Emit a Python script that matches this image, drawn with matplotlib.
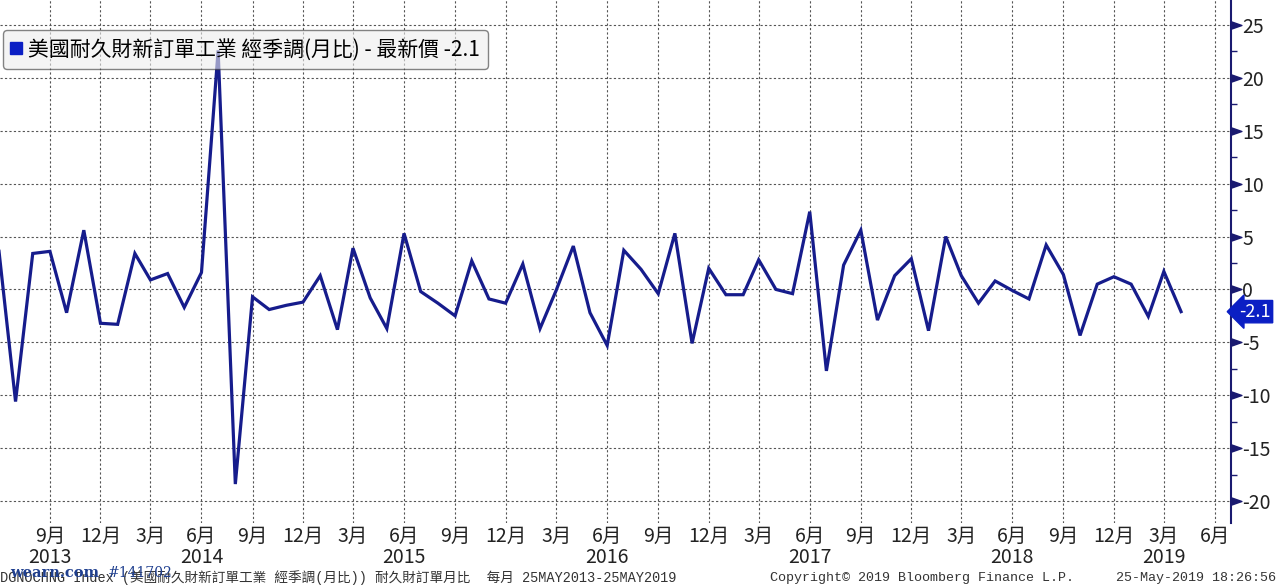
import numpy as np
import pandas as pd
import matplotlib
matplotlib.use("Agg")
import matplotlib.pyplot as plt
from matplotlib.lines import Line2D
from matplotlib.path import Path
from matplotlib.ticker import MultipleLocator

plt.rcParams['font.family'] = ['Noto Sans CJK TC', 'DejaVu Sans']
plt.rcParams['axes.unicode_minus'] = False

# monthly durable goods orders, % change m/m (Jun 2013 .. Apr 2019)
months = pd.date_range('2013-06-01', periods=71, freq='MS')
values = [3.7, -10.6, 3.4, 3.6, -2.2, 5.6, -3.2, -3.3, 3.4, 0.9,
          1.5, -1.7, 1.6, 22.6, -18.4, -0.7, -1.9, -1.5, -1.2, 1.3,
          -3.8, 3.9, -0.8, -3.7, 5.3, -0.2, -1.3, -2.5, 2.7, -0.9,
          -1.3, 2.4, -3.7, -0.1, 4.1, -2.2, -5.3, 3.7, 1.9, -0.4,
          5.3, -5.1, 2.0, -0.5, -0.5, 2.8, 0.0, -0.4, 7.35, -7.7,
          2.3, 5.6, -2.9, 1.3, 2.9, -3.9, 5.0, 1.3, -1.3, 0.8,
          -0.1, -0.9, 4.2, 1.4, -4.35, 0.5, 1.2, 0.5, -2.55, 1.7,
          -2.1]
last_value = values[-1]
series_name = '美國耐久財新訂單工業 經季調(月比) - 最新價 ' + str(last_value)

tick_dates = pd.date_range('2013-09-01', '2019-06-01', freq='3MS')
yticks = list(range(-20, 30, 5))

footer_left = 'DGNOCHNG Index (美國耐久財新訂單工業 經季調(月比)) 耐久財訂單月比  每月 25MAY2013-25MAY2019'
footer_mid = 'Copyright© 2019 Bloomberg Finance L.P.'
footer_right = '25-May-2019 18:26:56'

navy = '#161c8c'
axis_col = '#1a1a70'
mono = ['Liberation Mono', 'Noto Sans CJK TC']

fig = plt.figure(figsize=(12.8, 5.86), dpi=100)
ax = fig.add_axes([0, 63/586, 1231/1280, 523/586])

ax.plot(months, values, color=navy, lw=2.3, zorder=3, solid_joinstyle='miter')

ax.set_xlim(pd.Timestamp('2013-06-03'), pd.Timestamp('2019-06-30'))
ax.set_ylim(-22.08, 27.36)

ax.set_xticks(tick_dates)
ax.set_xticklabels([f'{d.month}月' for d in tick_dates], fontsize=14, color='#222222')
ax.tick_params(axis='x', length=0, pad=2)

ax.yaxis.tick_right()
ax.set_yticks(yticks)
ax.set_yticklabels([str(v) for v in yticks], fontsize=14, color='#222222')
ax.tick_params(axis='y', which='major', length=0, pad=8)
ax.yaxis.set_minor_locator(MultipleLocator(2.5))
ax.tick_params(axis='y', which='minor', length=4, width=1, color=axis_col, direction='out')

ax.grid(True, color='#555555', linestyle=(0, (2, 2)), linewidth=0.8)
ax.set_axisbelow(True)
for s in ['top', 'left', 'bottom']:
    ax.spines[s].set_visible(False)
ax.spines['right'].set_color(axis_col)
ax.spines['right'].set_linewidth(1.5)

# triangle markers on the axis at the major ticks
tri = Path([(0, -0.7), (2, 0), (0, 0.7), (0, -0.7)],
           [Path.MOVETO, Path.LINETO, Path.LINETO, Path.CLOSEPOLY])
ax.plot([1] * len(yticks), yticks, transform=ax.get_yaxis_transform(),
        marker=tri, ms=15, color=axis_col, ls='none', clip_on=False, zorder=5)

# year labels under the middle tick of each year
for yr in sorted(set(d.year for d in tick_dates)):
    ds = [d for d in tick_dates if d.year == yr]
    d = ds[(len(ds) - 1) // 2]
    ax.text(d, -0.066, str(yr), transform=ax.get_xaxis_transform(),
            ha='center', va='center', fontsize=14, color='#222222')

# last value label
ax.annotate(str(last_value), xy=(1, last_value), xycoords=ax.get_yaxis_transform(),
            xytext=(8, 0), textcoords='offset pixels', ha='left', va='center',
            fontsize=13, color='white', annotation_clip=False,
            bbox=dict(boxstyle='larrow,pad=0.12', fc='#0b1fc4', ec='#0b1fc4'))

handle = Line2D([], [], marker='s', ls='none', color='#0b1fc4', markersize=8)
leg = ax.legend([handle], [series_name], loc='upper left',
                bbox_to_anchor=(0.0024, 0.9426), borderaxespad=0,
                fontsize=15, handlelength=0.5, handletextpad=0.3,
                borderpad=0.4, fancybox=True, framealpha=0.6,
                facecolor='#eeeeee', edgecolor='#333333')
leg.get_frame().set_linewidth(1.0)

fig.text(0.0, 8/586, footer_left, fontsize=9.8, color='#333333',
         family=mono, va='center', ha='left')
fig.text(770/1280, 8/586, footer_mid, fontsize=9.6, color='#333333',
         family=mono, va='center', ha='left')
fig.text(1276/1280, 8/586, footer_right, fontsize=9.6, color='#333333',
         family=mono, va='center', ha='right')
fig.text(10/1280, 13/586, 'wearn.com', fontsize=10.5, fontweight='bold',
         color='#1f3f8f', family='DejaVu Serif', va='center', ha='left')
fig.text(108/1280, 13/586, '#141702', fontsize=10, color='#1f3f8f',
         family='DejaVu Serif', va='center', ha='left')

fig.savefig('out.png', dpi=100, facecolor='white')
